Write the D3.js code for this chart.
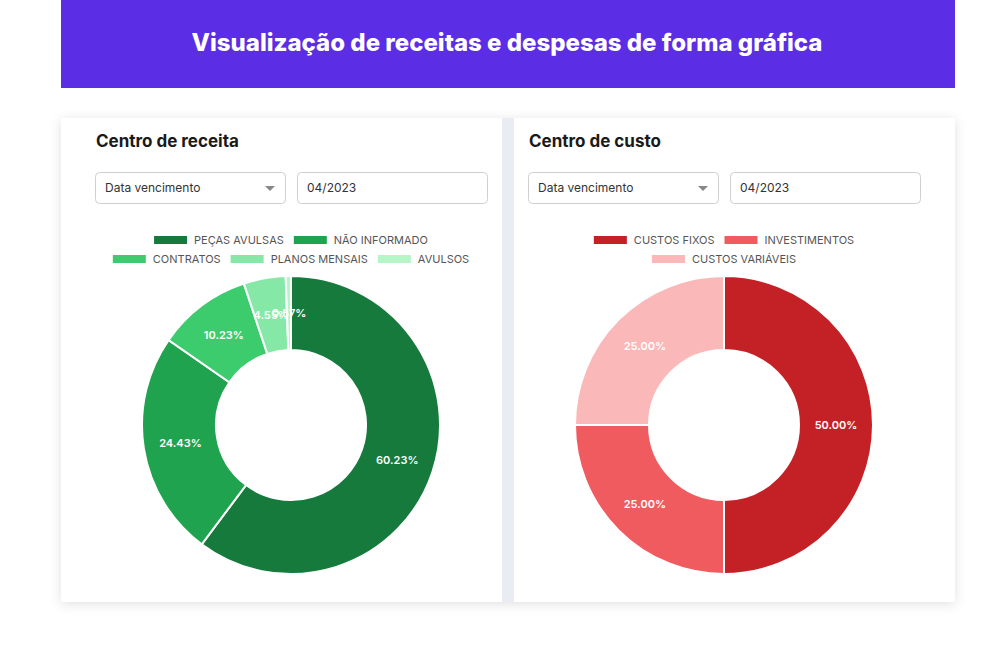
<!DOCTYPE html>
<html><head><meta charset="utf-8">
<script src="https://cdn.jsdelivr.net/npm/d3@7"></script>
<style>body{margin:0;background:#fff;font-family:Inter,"Noto Sans",sans-serif}</style>
</head><body><svg id="c" width="1000" height="654"></svg>
<script>
var receitaLabels = ['PEÇAS AVULSAS','NÃO INFORMADO','CONTRATOS','PLANOS MENSAIS','AVULSOS'];
var receitaValues = [60.23, 24.43, 10.23, 4.55, 0.57];
var receitaColors = ['#157a3c','#1fa34f','#3ccc6e','#86e8a6','#b5f5c8'];
var receitaRows = [[0,1],[2,3,4]];

var custoLabels = ['CUSTOS FIXOS','INVESTIMENTOS','CUSTOS VARIÁVEIS'];
var custoValues = [50, 25, 25];
var custoColors = ['#c42127','#f05b5f','#fbb8b8'];
var custoRows = [[0,1],[2]];

var svg = d3.select('#c');
var defs = svg.append('defs');
var f = defs.append('filter').attr('id','sh').attr('x','-10%').attr('y','-10%').attr('width','120%').attr('height','120%');
f.append('feDropShadow').attr('dx',0).attr('dy',2).attr('stdDeviation',6).attr('flood-color','#000').attr('flood-opacity',0.12);

svg.append('rect').attr('x',61).attr('y',0).attr('width',894).attr('height',88).style('fill','#5b2ee6');
svg.append('text').attr('x',507).attr('y',51).attr('text-anchor','middle')
  .style('fill','#fff').style('font-size','24px').style('font-weight',800)
  .text('Visualização de receitas e despesas de forma gráfica');

svg.append('rect').attr('x',61).attr('y',118).attr('width',894).attr('height',484).style('fill','#e9edf3').attr('filter','url(#sh)');

function card(x0, off, title, labels, values, colors, rows){
  var g = svg.append('g');
  g.append('rect').attr('x',x0).attr('y',118).attr('width',441).attr('height',484).style('fill','#fff');
  var bx = x0 + 34 + off;
  g.append('text').attr('x',bx+1).attr('y',147).style('font-size','17px').style('font-weight',700).style('fill','#1a1a1a').text(title);
  [[bx,'Data vencimento',true],[bx+202,'04/2023',false]].forEach(function(b){
    g.append('rect').attr('x',b[0]+0.5).attr('y',172.5).attr('width',190).attr('height',31).attr('rx',4)
      .style('fill','#fff').style('stroke','#cfcfcf');
    g.append('text').attr('x',b[0]+10).attr('y',192).style('font-size','12px').style('fill','#333').text(b[1]);
    if(b[2]) g.append('path').attr('d','M'+(b[0]+170)+',186 l10,0 l-5,5z').style('fill','#888');
  });
  var cx = x0 + 230 + off, cy = 425;
  rows.forEach(function(r,ri){
    var y = 240 + ri*19;
    var items = r.map(function(i){
      var t = g.append('text').attr('y',y+4).style('font-size','11px').style('fill','#555').text(labels[i]);
      return {i:i, t:t, w:t.node().getComputedTextLength()};
    });
    var total = d3.sum(items, function(d){return 33+7+d.w;}) + (items.length-1)*10;
    var x = cx - total/2;
    items.forEach(function(d){
      g.append('rect').attr('x',x).attr('y',y-4).attr('width',33).attr('height',8).style('fill',colors[d.i]);
      d.t.attr('x',x+40);
      x += 40 + d.w + 10;
    });
  });
  var pie = d3.pie().sort(null).value(function(d){return d;});
  var arc = d3.arc().innerRadius(75).outerRadius(149);
  var lab = d3.arc().innerRadius(112).outerRadius(112);
  var arcs = pie(values);
  var pg = g.append('g').attr('transform','translate('+cx+','+cy+')');
  pg.selectAll('path').data(arcs).enter().append('path')
    .attr('d',arc).style('fill',function(d,i){return colors[i];})
    .style('stroke','#fff').style('stroke-width',2);
  pg.selectAll('text').data(arcs).enter().append('text')
    .attr('transform',function(d){return 'translate('+lab.centroid(d)+')';})
    .attr('text-anchor','middle').attr('dy','0.35em')
    .style('fill','#fff').style('font-size','11px').style('font-weight',600)
    .text(function(d){return d.value.toFixed(2)+'%';});
}
card(61,0,'Centro de receita',receitaLabels,receitaValues,receitaColors,receitaRows);
card(514,-20,'Centro de custo',custoLabels,custoValues,custoColors,custoRows);
</script></body></html>
